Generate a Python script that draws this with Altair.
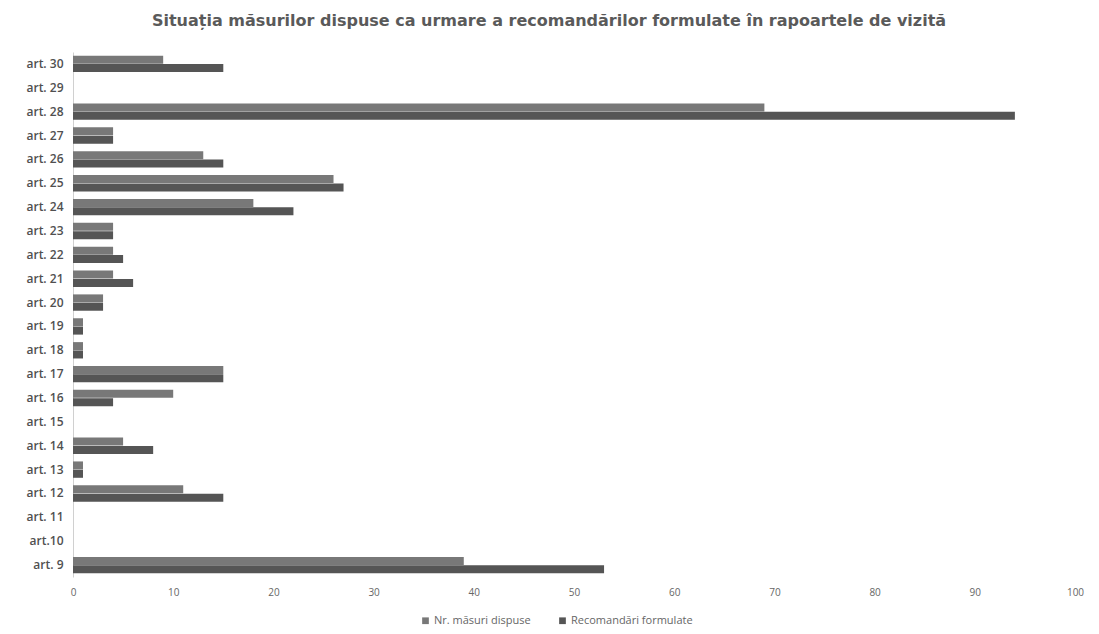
import altair as alt
import pandas as pd

categories = ["art. 30", "art. 29", "art. 28", "art. 27", "art. 26", "art. 25", "art. 24",
              "art. 23", "art. 22", "art. 21", "art. 20", "art. 19", "art. 18", "art. 17",
              "art. 16", "art. 15", "art. 14", "art. 13", "art. 12", "art. 11", "art.10", "art. 9"]
masuri = [9, 0, 69, 4, 13, 26, 18, 4, 4, 4, 3, 1, 1, 15, 10, 0, 5, 1, 11, 0, 0, 39]
recomandari = [15, 0, 94, 4, 15, 27, 22, 4, 5, 6, 3, 1, 1, 15, 4, 0, 8, 1, 15, 0, 0, 53]
series = ["Nr. măsuri dispuse", "Recomandări formulate"]
colors = ["#787878", "#555555"]

rows = []
for c, a, b in zip(categories, masuri, recomandari):
    rows.append({"art": c, "serie": series[0], "val": a})
    rows.append({"art": c, "serie": series[1], "val": b})
df = pd.DataFrame(rows)

chart = alt.Chart(df).mark_bar(size=8).encode(
    y=alt.Y("art:N", sort=categories, title=None,
            scale=alt.Scale(paddingInner=0.3, paddingOuter=0.15),
            axis=alt.Axis(labelFont="Open Sans", labelFontSize=12, labelFontWeight=600,
                          labelColor="#505050", ticks=False, labelPadding=10,
                          domainColor="#d0d0d0")),
    x=alt.X("val:Q", title=None,
            scale=alt.Scale(domain=[0, 100], nice=False),
            axis=alt.Axis(values=list(range(0, 101, 10)), grid=False, domain=False, ticks=False,
                          labelFlush=False,
                          labelFont="Open Sans", labelFontSize=10, labelColor="#666666",
                          labelPadding=10)),
    yOffset=alt.YOffset("serie:N", sort=series),
    color=alt.Color("serie:N", sort=series,
                    scale=alt.Scale(domain=series, range=colors),
                    legend=alt.Legend(title=None, orient="none", direction="horizontal",
                                      legendX=347, legendY=563, symbolType="square",
                                      symbolSize=45, labelFont="Open Sans", labelFontSize=11,
                                      labelColor="#666666", columnPadding=26,
                                      labelOffset=3)),
).properties(
    width=1002, height=525,
    title=alt.TitleParams(
        "Situația măsurilor dispuse ca urmare a recomandărilor formulate în rapoartele de vizită",
        font="DejaVu Sans", fontSize=16, fontWeight="bold", color="#5a5a5a",
        anchor="middle", dx=-25, offset=23),
    autosize=alt.AutoSizeParams(type="none"),
    padding={"left": 65, "top": 44, "right": 16, "bottom": 56},
).configure_view(stroke=None)

chart.save("out.html", embed_options={"renderer": "svg", "actions": False})
